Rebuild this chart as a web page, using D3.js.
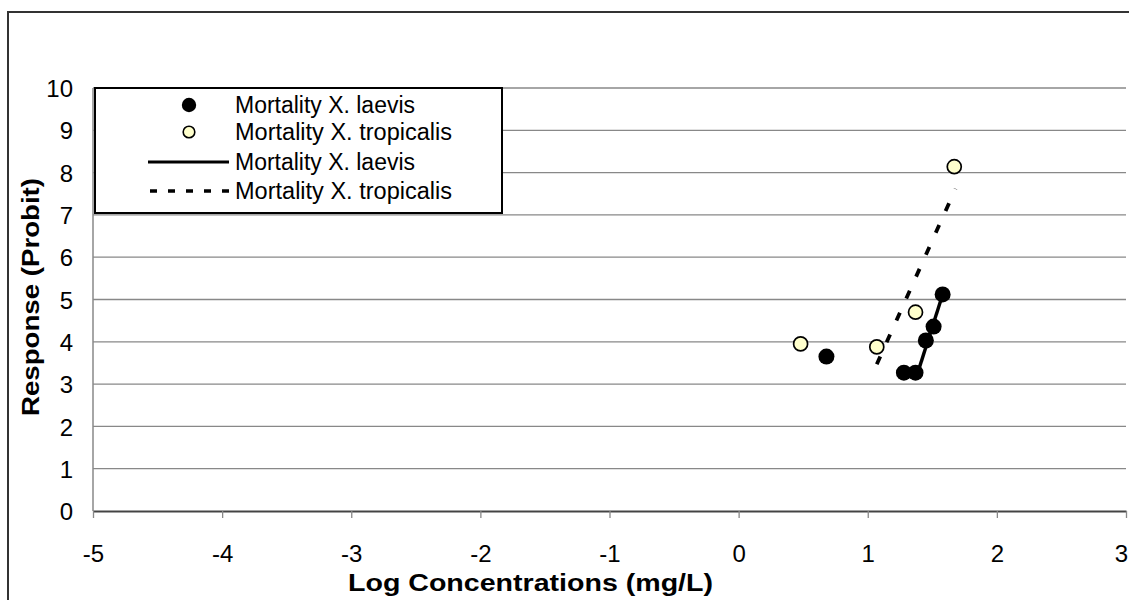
<!DOCTYPE html>
<html><head><meta charset="utf-8">
<script src="https://cdn.jsdelivr.net/npm/d3@7"></script>
<style>body{margin:0;background:#fff}svg{display:block}text{font-family:"Liberation Sans",Arial,sans-serif}</style>
</head><body><svg id="c" width="1129" height="600"></svg>
<script>
const laevisX = [0.68, 1.28, 1.37, 1.45, 1.51, 1.58];
const laevisY = [3.65, 3.27, 3.27, 4.03, 4.36, 5.12];
const tropX = [0.48, 1.07, 1.37, 1.67];
const tropY = [3.95, 3.88, 4.70, 8.14];
const laevisFitX = [1.38, 1.58];
const laevisFitY = [3.2, 5.12];
const tropFitX = [1.07, 1.68];
const tropFitY = [3.47, 7.62];
const xTicks = [-5, -4, -3, -2, -1, 0, 1, 2, 3];
const yTicks = [0, 1, 2, 3, 4, 5, 6, 7, 8, 9, 10];
const legendLabels = ["Mortality X. laevis", "Mortality X. tropicalis", "Mortality X. laevis", "Mortality X. tropicalis"];

const FF = '"Liberation Sans",Arial,sans-serif';
const svg = d3.select("#c");
const x = d3.scaleLinear().domain([-5, 3]).range([93, 1126]);
const y = d3.scaleLinear().domain([0, 10]).range([511, 88]);

// outer border
svg.append("rect").attr("x", 8).attr("y", 12).attr("width", 1140).attr("height", 620)
  .attr("fill", "#fff").attr("stroke", "#333").attr("stroke-width", 2);

// gridlines
svg.append("g").selectAll("line").data(yTicks.filter(d => d > 0)).join("line")
  .attr("x1", x(-5)).attr("x2", x(3)).attr("y1", d => y(d)).attr("y2", d => y(d))
  .attr("stroke", "#888").attr("stroke-width", 1.3);

// y axis line
svg.append("line").attr("x1", x(-5)).attr("x2", x(-5)).attr("y1", y(10)).attr("y2", y(0))
  .attr("stroke", "#888").attr("stroke-width", 1.5);

// x axis
const xAxis = d3.axisBottom(x).tickValues(xTicks).tickSize(7).tickSizeOuter(0).tickFormat(d3.format("d"));
const gx = svg.append("g").attr("transform", `translate(0,${y(0)})`).call(xAxis);
gx.select(".domain").attr("stroke", "#444").attr("stroke-width", 2);
gx.selectAll(".tick line").attr("stroke", "#888").attr("stroke-width", 1.3);
gx.selectAll(".tick text").attr("font-size", 24).attr("fill", "#000").attr("dy", 0).attr("y", 51)
  .attr("x", d => d === 3 ? -5 : 0)
  .style("font-family", FF).text(d => d < 0 ? "-" + Math.abs(d) : d);

// y axis labels
const yAxis = d3.axisLeft(y).tickValues(yTicks).tickSize(0).tickFormat(d3.format("d"));
const gy = svg.append("g").attr("transform", `translate(${x(-5)},0)`).call(yAxis);
gy.select(".domain").remove();
gy.selectAll(".tick text").attr("font-size", 24).attr("fill", "#000").attr("x", -20).attr("dy", "0.36em")
  .style("font-family", FF);

// axis titles
svg.append("text").attr("x", 348).attr("y", 591).attr("font-size", 23).attr("font-weight", "bold")
  .attr("textLength", 365).attr("lengthAdjust", "spacingAndGlyphs").text("Log Concentrations (mg/L)");
svg.append("text").attr("transform", "translate(39,297) rotate(-90)").attr("text-anchor", "middle")
  .attr("font-size", 23).attr("font-weight", "bold")
  .attr("textLength", 238).attr("lengthAdjust", "spacingAndGlyphs").text("Response (Probit)");

// fit lines
const line = d3.line().x(d => x(d[0])).y(d => y(d[1]));
svg.append("path").datum(d3.zip(laevisFitX, laevisFitY)).attr("d", line)
  .attr("fill", "none").attr("stroke", "#000").attr("stroke-width", 3.4);
svg.append("path").datum(d3.zip(tropFitX, tropFitY)).attr("d", line)
  .attr("fill", "none").attr("stroke", "#000").attr("stroke-width", 3.8).attr("stroke-dasharray", "8.5,15.5");

// points
svg.append("g").selectAll("circle").data(d3.zip(tropX, tropY)).join("circle")
  .attr("cx", d => x(d[0])).attr("cy", d => y(d[1])).attr("r", 7)
  .attr("fill", "#FFFFCC").attr("stroke", "#000").attr("stroke-width", 1.7);
svg.append("g").selectAll("circle").data(d3.zip(laevisX, laevisY)).join("circle")
  .attr("cx", d => x(d[0])).attr("cy", d => y(d[1])).attr("r", 8)
  .attr("fill", "#000");

// legend
const lg = svg.append("g");
lg.append("rect").attr("x", 95).attr("y", 88).attr("width", 407).attr("height", 125)
  .attr("fill", "#fff").attr("stroke", "#000").attr("stroke-width", 2);
const rows = [105, 132, 162, 191];
const widths = [180, 217, 180, 217];
legendLabels.forEach((t, i) => {
  lg.append("text").attr("x", 235).attr("y", rows[i]).attr("dy", "0.36em").attr("font-size", 23)
    .attr("textLength", widths[i]).attr("lengthAdjust", "spacingAndGlyphs").text(t);
});
lg.append("circle").attr("cx", 189).attr("cy", rows[0]).attr("r", 7.2).attr("fill", "#000");
lg.append("circle").attr("cx", 189).attr("cy", rows[1]).attr("r", 5.8).attr("fill", "#FFFFCC")
  .attr("stroke", "#000").attr("stroke-width", 1.6);
lg.append("line").attr("x1", 148).attr("x2", 229).attr("y1", rows[2]).attr("y2", rows[2])
  .attr("stroke", "#000").attr("stroke-width", 3.2);
lg.append("line").attr("x1", 150).attr("x2", 229).attr("y1", rows[3]).attr("y2", rows[3])
  .attr("stroke", "#000").attr("stroke-width", 3.4).attr("stroke-dasharray", "7,11");
</script></body></html>
